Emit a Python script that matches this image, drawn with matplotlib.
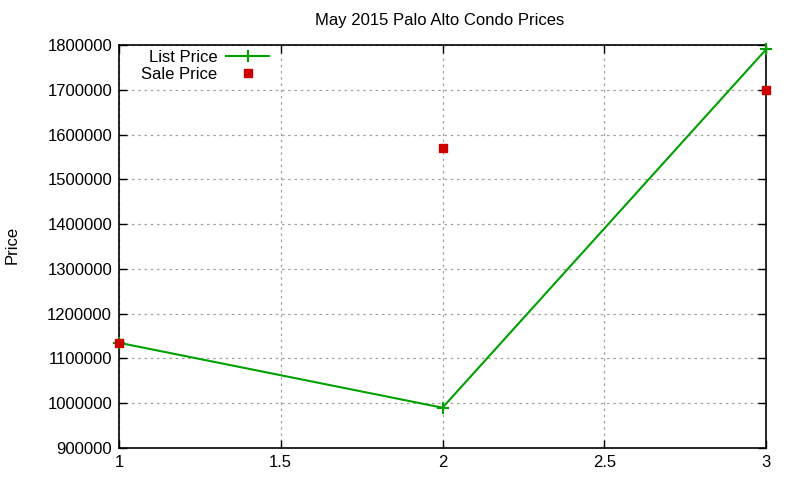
import matplotlib
matplotlib.use("Agg")
import matplotlib.pyplot as plt
from matplotlib.lines import Line2D
from matplotlib.ticker import FuncFormatter

# data
listing = [1, 2, 3]
list_price = [1135000, 990000, 1790000]
sale_price = [1135000, 1570000, 1700000]

plt.rcParams['font.family'] = ['Liberation Sans', 'DejaVu Sans']

fig = plt.figure(figsize=(8, 4.8), dpi=100)
ax = fig.add_axes([119/800, 1-448/480, (766-119)/800, (448-45)/480])

green = '#00a000'
red = '#cc0000'

ax.plot(listing, list_price, color=green, lw=1.5, marker='+', ms=8, mew=1.5,
        clip_on=False, zorder=3)
ax.plot(listing, sale_price, ls='none', marker='s', ms=6, color=red,
        clip_on=False, zorder=4)

ax.set_xlim(1, 3)
ax.set_ylim(900000, 1800000)
ax.set_xticks([1, 1.5, 2, 2.5, 3])
ax.set_xticklabels(['1', '1.5', '2', '2.5', '3'])
ax.set_yticks(range(900000, 1800001, 100000))
ax.yaxis.set_major_formatter(FuncFormatter(lambda v, p: f"{v:.0f}"))
ax.tick_params(direction='in', top=True, right=True, labelsize=12, length=6,
               width=1, pad=5)
ax.grid(True, color='#a0a0a0', ls=(0, (2, 3)), lw=0.9)
ax.set_axisbelow(True)
for s in ax.spines.values():
    s.set_linewidth(1.2)

fig.text(440/800, 1-20/480, 'May 2015 Palo Alto Condo Prices', ha='center',
         va='center', fontsize=12)
fig.text(12/800, 1-245/480, 'Price', rotation=90, ha='center', va='center',
         fontsize=12)

handles = [Line2D([], [], color=green, lw=1.5, marker='+', ms=8, mew=1.5),
           Line2D([], [], ls='none', marker='s', ms=6, color=red)]
ax.legend(handles, ['List Price', 'Sale Price'], loc='upper left',
          bbox_to_anchor=(0.014, 1.02), markerfirst=False, frameon=False,
          fontsize=12, handlelength=2.6, labelspacing=0.08, borderpad=0.3,
          handletextpad=0.5)

fig.savefig('out.png', dpi=100)
